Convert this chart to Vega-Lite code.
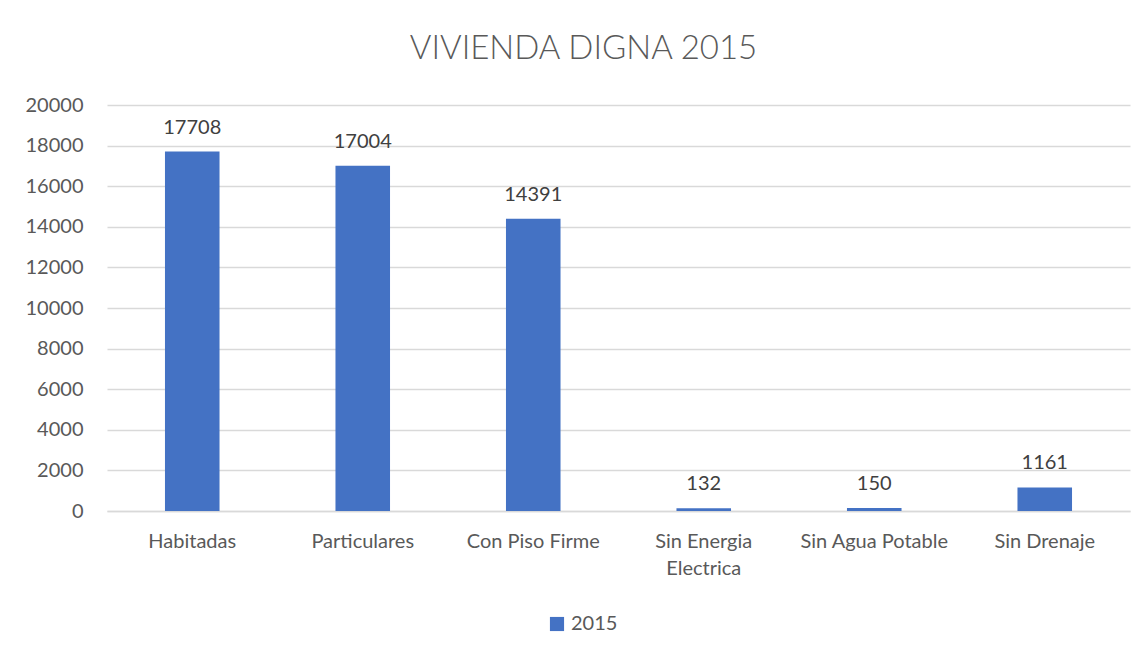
{
  "$schema": "https://vega.github.io/schema/vega-lite/v6.json",
  "width": 1023,
  "height": 406,
  "autosize": {"type": "none"},
  "padding": {"left": 107, "top": 105, "right": 15, "bottom": 147},
  "background": "white",
  "title": {
    "text": "VIVIENDA DIGNA 2015",
    "font": "Lato",
    "fontSize": 33,
    "fontWeight": 300,
    "color": "#595959",
    "offset": 29,
    "dx": -35
  },
  "data": {
    "values": [
      {"categoria": "Habitadas", "serie": "2015", "valor": 17708},
      {"categoria": "Particulares", "serie": "2015", "valor": 17004},
      {"categoria": "Con Piso Firme", "serie": "2015", "valor": 14391},
      {"categoria": "Sin Energia Electrica", "serie": "2015", "valor": 132},
      {"categoria": "Sin Agua Potable", "serie": "2015", "valor": 150},
      {"categoria": "Sin Drenaje", "serie": "2015", "valor": 1161}
    ]
  },
  "encoding": {
    "x": {
      "field": "categoria",
      "type": "nominal",
      "sort": null,
      "title": null,
      "scale": {"paddingInner": 0.68, "paddingOuter": 0.34},
      "axis": {
        "labelAngle": 0,
        "labelFont": "Lato",
        "labelFontSize": 20,
        "labelColor": "#595959",
        "labelPadding": 20,
        "labelExpr": "datum.label == 'Sin Energia Electrica' ? ['Sin Energia', 'Electrica'] : datum.label",
        "labelLineHeight": 27,
        "ticks": false,
        "domainColor": "#d9d9d9",
        "domainWidth": 1.5,
        "grid": false
      }
    },
    "y": {
      "field": "valor",
      "type": "quantitative",
      "title": null,
      "scale": {"domain": [0, 20000]},
      "axis": {
        "values": [0, 2000, 4000, 6000, 8000, 10000, 12000, 14000, 16000, 18000, 20000],
        "format": "d",
        "labelFont": "Lato",
        "labelFontSize": 20,
        "labelColor": "#595959",
        "labelPadding": 24,
        "ticks": false,
        "domain": false,
        "gridColor": "#d9d9d9",
        "gridWidth": 1.5
      }
    }
  },
  "layer": [
    {
      "mark": {"type": "bar", "color": "#4472C4"},
      "encoding": {
        "color": {
          "field": "serie",
          "type": "nominal",
          "scale": {"range": ["#4472C4"]},
          "legend": {
            "title": null,
            "orient": "none",
            "legendX": 440,
            "legendY": 509,
            "symbolType": "square",
            "symbolSize": 200,
            "symbolStrokeWidth": 0,
            "labelFont": "Lato",
            "labelFontSize": 20,
            "labelColor": "#595959",
            "labelOffset": 4
          }
        }
      }
    },
    {
      "mark": {
        "type": "text",
        "font": "Lato",
        "fontSize": 20,
        "color": "#404040",
        "baseline": "bottom",
        "dy": -14
      },
      "encoding": {
        "text": {"field": "valor", "type": "quantitative", "format": "d"}
      }
    }
  ],
  "config": {"view": {"stroke": null}}
}
